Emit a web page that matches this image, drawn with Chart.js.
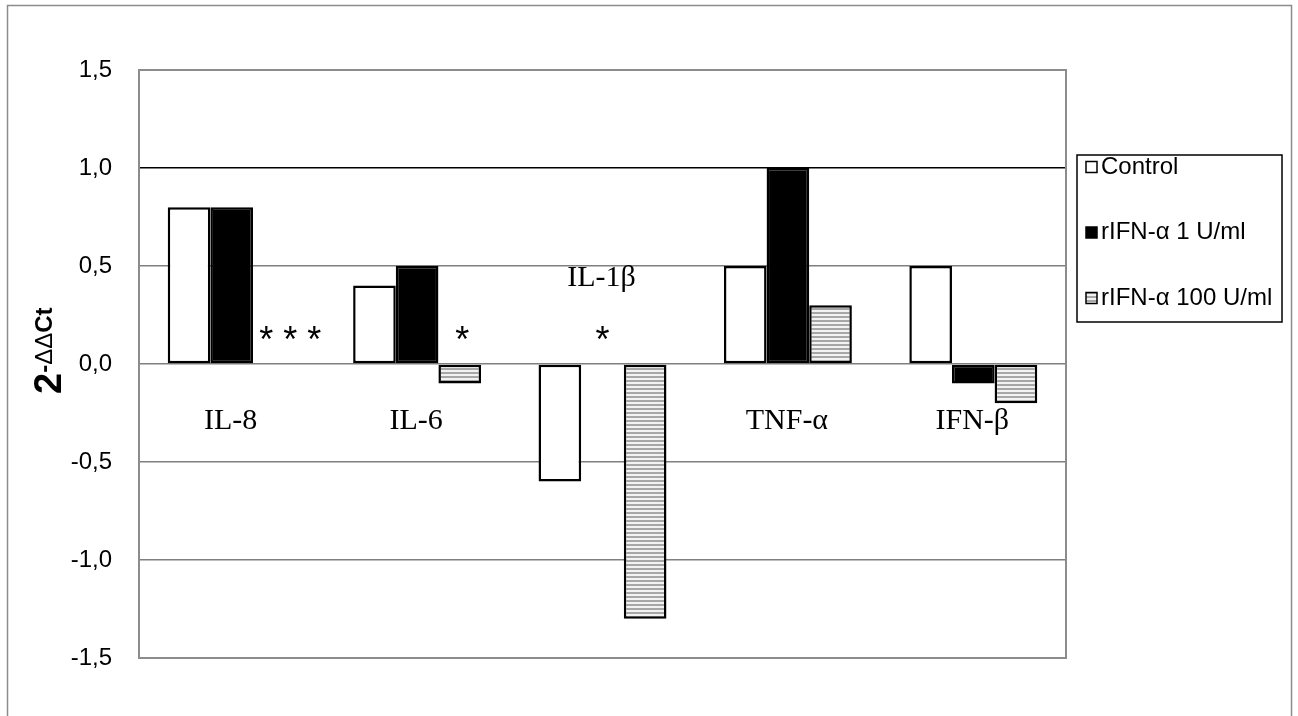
<!DOCTYPE html>
<html>
<head>
<meta charset="utf-8">
<script src="https://cdn.jsdelivr.net/npm/chart.js@4"></script>
<style>
  html, body { margin: 0; padding: 0; background: #fff; }
  #wrap { width: 1298px; height: 716px; position: relative; }
</style>
</head>
<body>
<div id="wrap"><canvas id="chartIFN" width="1298" height="716"></canvas></div>
<script>
// data
const categories = ['IL-8', 'IL-6', 'IL-1β', 'TNF-α', 'IFN-β'];
const seriesNames = ['Control', 'rIFN-α 1 U/ml', 'rIFN-α 100 U/ml'];
const controlValues = [0.8, 0.4, -0.6, 0.5, 0.5];
const rifn1Values = [0.8, 0.5, 0, 1.0, -0.1];
const rifn100Values = [0, -0.1, -1.3, 0.3, -0.2];
const yTicks = [-1.5, -1.0, -0.5, 0, 0.5, 1.0, 1.5];

// posisi label kategori (nilai y) -- IL-1β di atas
const labelY = [-0.29, -0.29, 0.44, -0.29, -0.29];
// tanda bintang: kategori, geser x (satuan kategori), nilai y
const stars = [
  { cat: 0, dx: 0.316, y: 0.15, text: '***' },
  { cat: 1, dx: 0.243, y: 0.15, text: '*' },
  { cat: 2, dx: 0.0, y: 0.15, text: '*' }
];

// pola garis horizontal abu2
function makeHatch() {
  const c = document.createElement('canvas');
  c.width = 4; c.height = 4;
  const g = c.getContext('2d');
  g.fillStyle = '#f2f2f2';
  g.fillRect(0, 0, 4, 4);
  g.fillStyle = '#a6a6a6';
  g.fillRect(0, 0, 4, 2);
  return g.createPattern(c, 'repeat');
}
const hatch = makeHatch();
const fills = ['#ffffff', '#000000', hatch];

const PLOT = { left: 139, right: 1066, top: 70, bottom: 658 };

const decoPlugin = {
  id: 'deco',
  beforeDraw(chart) {
    const ctx = chart.ctx;
    ctx.save();
    ctx.strokeStyle = '#8c8c8c';
    ctx.lineWidth = 1.5;
    ctx.strokeRect(7.5, 5.5, 1284, 730);
    ctx.restore();
  },
  afterDraw(chart) {
    const ctx = chart.ctx;
    const area = chart.chartArea;
    const x = chart.scales.x;
    const y = chart.scales.y;
    ctx.save();
    // border plot
    ctx.strokeStyle = '#8c8c8c';
    ctx.lineWidth = 2;
    ctx.strokeRect(area.left, area.top, area.right - area.left, area.bottom - area.top);

    // label kategori
    ctx.fillStyle = '#000';
    ctx.font = '30px "Liberation Serif", "Times New Roman", serif';
    ctx.textAlign = 'center';
    ctx.textBaseline = 'middle';
    categories.forEach((c, i) => {
      ctx.fillText(c, x.getPixelForValue(i) - 1, y.getPixelForValue(labelY[i]));
    });

    // bintang
    ctx.font = '36px "Liberation Sans", Arial, sans-serif';
    const step = x.getPixelForValue(1) - x.getPixelForValue(0);
    stars.forEach(s => {
      const t = s.text.split('').join(' ');
      ctx.fillText(t, x.getPixelForValue(s.cat) + s.dx * step, y.getPixelForValue(s.y) + 7);
    });

    // judul sumbu y: 2 pangkat -ΔΔCt
    ctx.translate(61, 394);
    ctx.rotate(-Math.PI / 2);
    ctx.textAlign = 'left';
    ctx.textBaseline = 'alphabetic';
    ctx.font = 'bold 38px "Liberation Sans", Arial, sans-serif';
    ctx.fillText('2', 0, 0);
    let px = ctx.measureText('2').width;
    const parts = [['-', 'bold'], ['ΔΔ', 'normal'], ['Ct', 'bold']];
    parts.forEach(p => {
      ctx.font = p[1] + ' 24px "Liberation Sans", Arial, sans-serif';
      ctx.fillText(p[0], px, -9);
      px += ctx.measureText(p[0]).width;
    });
    ctx.restore();

    // legend
    ctx.save();
    const lx = 1077, ly = 155, lw = 205, lh = 167;
    ctx.strokeStyle = '#000';
    ctx.lineWidth = 1.5;
    ctx.strokeRect(lx, ly, lw, lh);
    ctx.font = '24px "Liberation Sans", Arial, sans-serif';
    ctx.textAlign = 'left';
    ctx.textBaseline = 'middle';
    chart.data.datasets.forEach((ds, i) => {
      const cy = ly + 12 + i * 65.5;
      ctx.fillStyle = fills[i];
      ctx.fillRect(1086, cy - 5.5, 11, 11);
      ctx.strokeStyle = '#000';
      ctx.lineWidth = 1.5;
      ctx.strokeRect(1086, cy - 5.5, 11, 11);
      ctx.fillStyle = '#000';
      ctx.fillText(ds.label, 1101, cy);
    });
    ctx.restore();
  }
};

const seriesValues = [controlValues, rifn1Values, rifn100Values];
const datasets = seriesValues.map((vals, i) => ({
  label: seriesNames[i],
  data: vals,
  backgroundColor: fills[i],
  borderColor: '#000',
  borderWidth: (c) => (c.raw === 0 ? 0 : 2.5),
  borderSkipped: false,
  categoryPercentage: 0.69,
  barPercentage: 1.0
}));

const chartConfig = {
  type: 'bar',
  data: { labels: categories, datasets: datasets },
  options: {
    responsive: false,
    animation: false,
    devicePixelRatio: 1,
    layout: {
      padding: { left: 0, top: PLOT.top, right: 1298 - PLOT.right, bottom: 716 - PLOT.bottom }
    },
    plugins: {
      legend: { display: false },
      tooltip: { enabled: false }
    },
    scales: {
      x: {
        display: false
      },
      y: {
        min: -1.5,
        max: 1.5,
        afterFit: (s) => { s.width = PLOT.left; },
        afterBuildTicks: (s) => { s.ticks = yTicks.map(v => ({ value: v })); },
        ticks: {
          padding: 27,
          color: '#000',
          font: { family: '"Liberation Sans", Arial, sans-serif', size: 24 },
          callback: (v) => Number(v).toFixed(1).replace('.', ',')
        },
        grid: {
          color: (c) => (c.tick && c.tick.value === 1.0 ? '#000' : '#7f7f7f'),
          lineWidth: 1.5,
          drawTicks: false
        },
        border: { display: false }
      }
    }
  },
  plugins: [decoPlugin]
};

var ctx = document.getElementById('chartIFN');
var wadahChart = new Chart(ctx, chartConfig);
</script>
</body>
</html>
